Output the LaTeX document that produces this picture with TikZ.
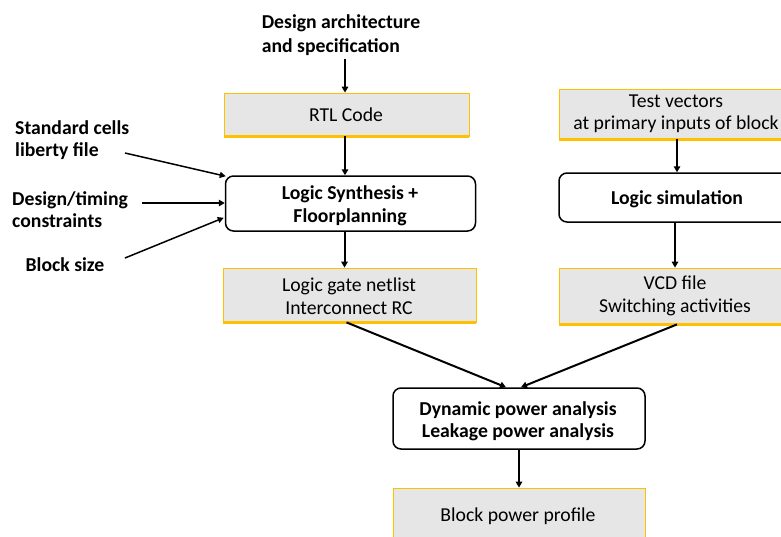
\documentclass[tikz,border=0pt]{standalone}
\usepackage{fontspec}
\setmainfont{Carlito}
\usetikzlibrary{arrows.meta,calc}
\definecolor{boxgray}{HTML}{E7E6E6}
\definecolor{gold}{HTML}{FFC000}
\tikzset{
  txt/.style={font=\fontsize{19.7}{22.5}\selectfont, align=center, inner sep=0pt},
  btxt/.style={txt, font=\fontsize{19.7}{22.5}\selectfont\bfseries},
  databox/.style={fill=boxgray, draw=gold, line width=0.8pt, inner sep=0pt},
  procbox/.style={draw=black, line width=1.5pt, rounded corners=8pt, fill=white, inner sep=0pt},
  goldbottom/.style={draw=gold, line width=2.4pt},
  arr/.style={draw=black, line width=2pt, -{Triangle[length=6pt,width=6.5pt]}},
  thinarr/.style={draw=black, line width=1.5pt, -{Triangle[length=6pt,width=6pt]}}
}
\begin{document}
\begin{tikzpicture}[x=1pt,y=-1pt]
\clip (0,0) rectangle (781,536);
\fill[white] (0,0) rectangle (781,536);

% data boxes (grey with gold frame)
\node[databox, minimum width=245, minimum height=43] (rtl) at (346.5,114.5) {};
\node[txt] (rtlt) at (346,114.5) {RTL Code};
\node[databox, minimum width=253, minimum height=54] (net) at (349.5,295) {};
\node[txt] (nett) at (349,296) {Logic gate netlist\\Interconnect RC};
\node[databox, minimum width=240, minimum height=50] (tv) at (679,114) {};
\node[txt] (tvt) at (676,114) {Test vectors\\at primary inputs of block};
\node[databox, minimum width=240, minimum height=56] (vcd) at (679,296) {};
\node[txt] (vcdt) at (675,296) {VCD file\\Switching activities};
\node[databox, minimum width=252, minimum height=70] (bpp) at (519,523) {};
\node[txt] (bppt) at (518,516.5) {Block power profile};

% thicker gold bottom edges
\draw[goldbottom] (rtl.south west) -- (rtl.south east);
\draw[goldbottom] (net.south west) -- (net.south east);
\draw[goldbottom] (tv.south west) -- (tv.south east);
\draw[goldbottom] (vcd.south west) -- (vcd.south east);

% process boxes (rounded, black frame)
\node[procbox, minimum width=250, minimum height=55] (syn) at (350.5,203.5) {};
\node[btxt] (synt) at (350,206) {Logic Synthesis +\\Floorplanning};
\node[procbox, minimum width=240, minimum height=49] (sim) at (679,197.5) {};
\node[btxt] (simt) at (677,199.5) {Logic simulation};
\node[procbox, minimum width=252, minimum height=61] (dyn) at (519,418.5) {};
\node[btxt] (dynt) at (518,421) {Dynamic power analysis\\Leakage power analysis};

% input labels
\node[btxt] (spec) at (341,36) {\begin{tabular}{@{}l@{}}Design architecture\\[1.5pt]and specification\end{tabular}};
\node[btxt, anchor=west] (lib) at (15,141) {\begin{tabular}{@{}l@{}}Standard cells\\liberty file\end{tabular}};
\node[btxt, anchor=west] (cons) at (12,212) {\begin{tabular}{@{}l@{}}Design/timing\\constraints\end{tabular}};
\node[btxt] (bsz) at (65,265) {Block size};

\coordinate (libtail) at (125,153);
\coordinate (constail) at (142,203);
\coordinate (bsztail) at (125,258);

% connectors
\draw[arr] (spec.south -| rtl.north) ++(-1.5,0) coordinate (spectail) -- (spectail |- rtl.north);
\draw[arr] ([xshift=-1.5pt]rtl.south) -- ([xshift=-1.5pt]rtl.south |- syn.north);
\draw[arr] ([xshift=-6pt]syn.south) -- ([xshift=-6pt]syn.south |- net.north);
\draw[arr] ([xshift=-2pt]tv.south) -- ([xshift=-2pt]tv.south |- sim.north);
\draw[arr] ([xshift=-4pt]sim.south) -- ([xshift=-4pt]sim.south |- vcd.north);
\draw[arr] (net.south) ++(-3,0) -- ([xshift=-13pt]dyn.north);
\draw[arr] ([xshift=-2pt]vcd.south) -- ([xshift=2pt]dyn.north);
\draw[arr] (dyn.south) -- (dyn.south |- bpp.north);

\draw[thinarr] (libtail) -- ($(syn.north west)+(1,1)$);
\draw[arr] (constail) -- (constail -| syn.west);
\draw[thinarr] (bsztail) -- ($(syn.south west)+(-1,-14)$);
\end{tikzpicture}
\end{document}
